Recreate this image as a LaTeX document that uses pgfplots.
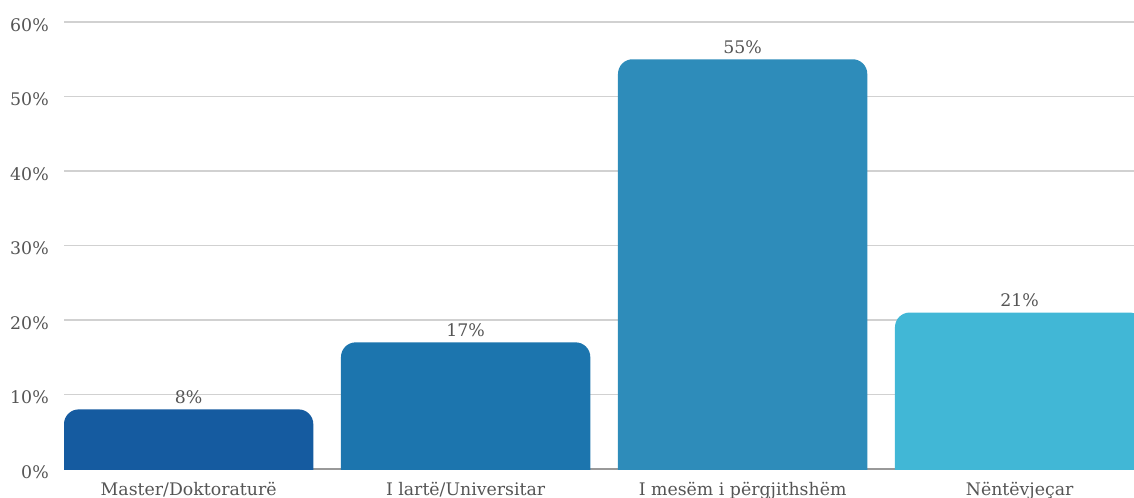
\documentclass[border=0pt]{standalone}
\usepackage{pgfplots}
\pgfplotsset{compat=1.18}
\usepackage{fontspec}
\setmainfont{DejaVu Serif}
\pgfkeys{/pgf/number format/assume math mode=true}

\definecolor{barA}{RGB}{21,91,160}
\definecolor{barB}{RGB}{28,117,174}
\definecolor{barC}{RGB}{46,140,186}
\definecolor{barD}{RGB}{65,183,214}
\definecolor{labelgray}{RGB}{85,85,85}

\begin{document}
\begin{tikzpicture}
% page frame: 1134 x 497 px at 0.75pt per px
\path[use as bounding box, clip] (0,0) rectangle (850.5pt,372.75pt);
\begin{axis}[
  at={(48pt,21pt)}, anchor=south west,
  scale only axis, width=802.5pt, height=335.25pt,
  xmin=-0.45, xmax=3.413, ymin=0, ymax=60,
  xtick={0,1,2,3},
  xticklabels={Master/Doktoraturë, I lartë/Universitar, I mesëm i përgjithshëm, Nëntëvjeçar},
  ytick={0,10,...,60},
  yticklabel={\pgfmathprintnumber[assume math mode=true]{\tick}\%},
  major tick length=0pt, tick style={draw=none},
  axis line style={draw=none},
  ymajorgrids, grid style={draw=black!18, line width=1pt},
  extra y ticks={0}, extra y tick labels={},
  extra y tick style={grid style={draw=black!40, line width=1pt}},
  tick label style={font=\fontsize{13}{15}\selectfont, text=labelgray},
  yticklabel style={anchor=base east, inner sep=0pt, xshift=-11.25pt, yshift=-6.75pt},
  xticklabel style={anchor=base, inner sep=0pt, yshift=-19.5pt},
  clip=true,
]
% bars with rounded top corners; the bottom corners sit below zero and are clipped
\addplot[fill=barA, draw=none, rounded corners=11pt] coordinates {(-0.45,-5) (-0.45,8) (0.45,8) (0.45,-5)};
\addplot[fill=barB, draw=none, rounded corners=11pt] coordinates {(0.55,-5) (0.55,17) (1.45,17) (1.45,-5)};
\addplot[fill=barC, draw=none, rounded corners=11pt] coordinates {(1.55,-5) (1.55,55) (2.45,55) (2.45,-5)};
\addplot[fill=barD, draw=none, rounded corners=11pt] coordinates {(2.55,-5) (2.55,21) (3.45,21) (3.45,-5)};
% value labels above the bars
\addplot[draw=none, mark=none,
  nodes near coords={\pgfmathprintnumber[assume math mode=true]{\pgfplotspointmeta}\%},
  every node near coord/.append style={inner sep=0pt, yshift=4pt,
    font=\fontsize{13}{15}\selectfont, text=labelgray}]
  coordinates {(0,8) (1,17) (2,55) (3,21)};
\end{axis}
\end{tikzpicture}
\end{document}
